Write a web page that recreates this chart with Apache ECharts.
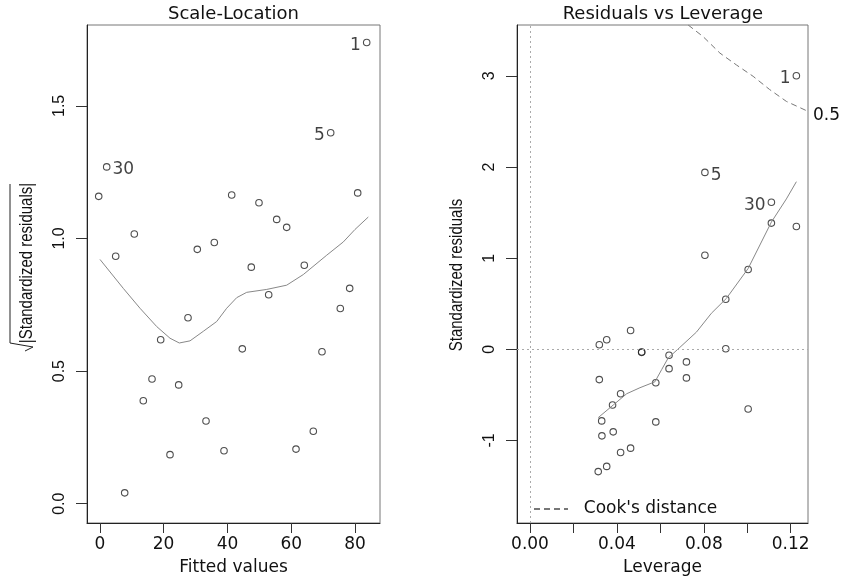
<!DOCTYPE html>
<html>
<head>
<meta charset="utf-8">
<script src="https://cdn.jsdelivr.net/npm/echarts@6/dist/echarts.min.js"></script>
<style>html,body{margin:0;padding:0;background:#fff}#c{width:841px;height:581px}</style>
</head>
<body>
<div id="c"></div>
<script>
// ---------- Scale-Location panel ----------
const fittedValues = [83.63, 72.35, 2.16, -0.34, 41.33, 80.81, 49.88, 55.43, 58.56, 10.81, 35.88, 30.55, 4.98, 47.47, 64.08, 78.30, 52.92, 75.36, 27.64, 19.08, 44.65, 69.62, 16.36, 24.72, 13.63, 33.28, 66.90, 38.92, 61.48, 22.00, 7.80];
const sqrtStdResid = [1.739, 1.399, 1.270, 1.159, 1.164, 1.172, 1.135, 1.072, 1.042, 1.017, 0.985, 0.959, 0.933, 0.892, 0.899, 0.812, 0.788, 0.736, 0.701, 0.618, 0.584, 0.573, 0.470, 0.448, 0.388, 0.312, 0.273, 0.200, 0.206, 0.185, 0.041];
const slLabels = ['1', '5', '30'];
const slLabelSide = ['left', 'left', 'right'];
const slSmoothX = [0.06, 7.36, 12.60, 17.83, 22.00, 24.91, 28.26, 32.43, 36.63, 39.76, 42.90, 46.03, 52.30, 58.56, 63.76, 71.10, 76.30, 79.96, 84.13];
const slSmoothY = [0.921, 0.812, 0.737, 0.668, 0.624, 0.606, 0.614, 0.650, 0.687, 0.737, 0.777, 0.797, 0.808, 0.824, 0.864, 0.937, 0.987, 1.034, 1.081];
const slXTicks = [0, 20, 40, 60, 80];
const slYTicks = [0, 0.5, 1.0, 1.5];

// ---------- Residuals vs Leverage panel ----------
const leverage = [0.1226, 0.0805, 0.1111, 0.1111, 0.1226, 0.0805, 0.1004, 0.0901, 0.0463, 0.0353, 0.0319, 0.0514, 0.0514, 0.0901, 0.0640, 0.0720, 0.0640, 0.0319, 0.0720, 0.0579, 0.0417, 0.0380, 0.0330, 0.0579, 0.1004, 0.0383, 0.0331, 0.0463, 0.0417, 0.0353, 0.0314];
const stdResid = [3.002, 1.941, 1.614, 1.385, 1.348, 1.032, 0.876, 0.549, 0.207, 0.105, 0.050, -0.029, -0.033, 0.007, -0.065, -0.138, -0.212, -0.332, -0.313, -0.367, -0.487, -0.611, -0.785, -0.796, -0.654, -0.905, -0.949, -1.084, -1.131, -1.284, -1.341];
const rlLabels = ['1', '5', '30'];
const rlLabelSide = ['left', 'right', 'left'];
const rlSmoothX = [0.0314, 0.0383, 0.0445, 0.0506, 0.0575, 0.0606, 0.0636, 0.0690, 0.0766, 0.0835, 0.0904, 0.1004, 0.1111, 0.1180, 0.1226];
const rlSmoothY = [-0.749, -0.611, -0.487, -0.421, -0.356, -0.222, -0.095, 0.022, 0.189, 0.396, 0.559, 0.887, 1.396, 1.650, 1.839];
const cookX = [0.0728, 0.0797, 0.0874, 0.0950, 0.1027, 0.1103, 0.1180, 0.1280];
const cookY = [3.558, 3.43, 3.25, 3.12, 2.995, 2.85, 2.72, 2.61];
const cookLevel = '0.5';
const rlXTicks = [0, 0.02, 0.04, 0.06, 0.08, 0.10, 0.12];
const rlXLabels = [0, 0.04, 0.08, 0.12];
const rlYTicks = [-1, 0, 1, 2, 3];

const H = "'DejaVu Sans', sans-serif";
const V = "'Liberation Sans', Arial, sans-serif";
const INK = '#111';

function pts(xs, ys) { return xs.map((x, i) => [x, ys[i]]); }
function labelled(xs, ys, labels, sides) {
  return xs.map((x, i) => {
    const d = { value: [x, ys[i]] };
    if (i < labels.length) {
      d.label = { show: true, formatter: labels[i], position: sides[i], distance: 2, offset: [0, 3],
        fontFamily: H, fontSize: 17, color: INK };
    }
    return d;
  });
}
function xAxisCfg(grid, min, max, ticks, labels, fmt, name) {
  return {
    type: 'value', gridIndex: grid, min: min, max: max,
    splitLine: { show: false },
    axisLine: { show: true, onZero: false, lineStyle: { color: '#222', width: 1 } },
    axisTick: { show: true, length: 10, customValues: ticks, lineStyle: { color: '#333' } },
    axisLabel: { show: true, customValues: labels, formatter: fmt, margin: 13,
      fontFamily: H, fontSize: 17, color: INK, showMinLabel: true, showMaxLabel: true },
    name: name, nameLocation: 'middle', nameGap: 36,
    nameTextStyle: { fontFamily: H, fontSize: 17, color: INK }
  };
}
function yAxisCfg(grid, min, max, ticks, fmt) {
  return {
    type: 'value', gridIndex: grid, min: min, max: max,
    splitLine: { show: false },
    axisLine: { show: true, onZero: false, lineStyle: { color: '#222', width: 1 } },
    axisTick: { show: true, length: 11, customValues: ticks, lineStyle: { color: '#333' } },
    axisLabel: { show: true, customValues: ticks, formatter: fmt, rotate: 90, margin: 19,
      fontFamily: V, fontSize: 16, color: INK }
  };
}
const pointStyle = { color: 'rgba(0,0,0,0)', borderColor: '#222', borderWidth: 1.1 };

const chart = echarts.init(document.getElementById('c'), null, { renderer: 'canvas' });
chart.setOption({
  animation: false,
  backgroundColor: '#fff',
  grid: [
    { left: 87, top: 25, width: 293, height: 501, show: true, borderColor: '#777', borderWidth: 1, containLabel: false },
    { left: 517, top: 25, width: 291, height: 501, show: true, borderColor: '#777', borderWidth: 1, containLabel: false }
  ],
  xAxis: [
    xAxisCfg(0, -4.01, 87.8, slXTicks, slXTicks, v => String(v), 'Fitted values'),
    xAxisCfg(1, -0.00598, 0.12795, rlXTicks, rlXLabels, v => v.toFixed(2), 'Leverage')
  ],
  yAxis: [
    yAxisCfg(0, -0.0727, 1.805, slYTicks, v => v.toFixed(1)),
    yAxisCfg(1, -1.905, 3.558, rlYTicks, v => String(v))
  ],
  legend: {
    data: ["Cook's distance"], left: 533, top: 500.5, padding: 0,
    itemWidth: 34, itemHeight: 14, formatter: '  {name}',
    itemStyle: { color: 'rgba(0,0,0,0)', borderWidth: 0, opacity: 0 },
    textStyle: { fontFamily: H, fontSize: 17, color: INK }
  },
  series: [
    { type: 'line', xAxisIndex: 0, yAxisIndex: 0, data: pts(slSmoothX, slSmoothY),
      showSymbol: false, symbol: 'none', smooth: false, silent: true,
      lineStyle: { color: '#888', width: 1 } },
    { type: 'scatter', xAxisIndex: 0, yAxisIndex: 0, data: labelled(fittedValues, sqrtStdResid, slLabels, slLabelSide),
      symbol: 'circle', symbolSize: 6.5, itemStyle: pointStyle, silent: true },
    { type: 'scatter', xAxisIndex: 1, yAxisIndex: 1, data: [], silent: true,
      markLine: { silent: true, symbol: 'none', label: { show: false },
        lineStyle: { type: [2, 3], color: '#aaa', width: 1 },
        data: [{ xAxis: 0 }, { yAxis: 0 }] } },
    { name: "Cook's distance", type: 'line', xAxisIndex: 1, yAxisIndex: 1, data: pts(cookX, cookY),
      showSymbol: false, symbol: 'none', silent: true, clip: true,
      lineStyle: { color: '#777', width: 1, type: [6, 4] } },
    { type: 'line', xAxisIndex: 1, yAxisIndex: 1, data: pts(rlSmoothX, rlSmoothY),
      showSymbol: false, symbol: 'none', silent: true,
      lineStyle: { color: '#888', width: 1 } },
    { type: 'scatter', xAxisIndex: 1, yAxisIndex: 1, data: labelled(leverage, stdResid, rlLabels, rlLabelSide),
      symbol: 'circle', symbolSize: 6.5, itemStyle: pointStyle, silent: true }
  ],
  graphic: [
    { type: 'text', x: 233.5, y: 14, style: { text: 'Scale-Location', fontFamily: H, fontSize: 18, fill: INK, textAlign: 'center', textVerticalAlign: 'middle' } },
    { type: 'text', x: 662.8, y: 14, style: { text: 'Residuals vs Leverage', fontFamily: H, fontSize: 18, fill: INK, textAlign: 'center', textVerticalAlign: 'middle' } },
    { type: 'text', x: 813, y: 116, style: { text: cookLevel, fontFamily: H, fontSize: 17, fill: INK, textAlign: 'left', textVerticalAlign: 'middle' } },
    { type: 'text', x: 27, y: 263, rotation: Math.PI / 2, scaleY: 1.2,
      style: { text: '|Standardized residuals|', fontFamily: V, fontSize: 15, fill: INK, textAlign: 'center', textVerticalAlign: 'middle' } },
    { type: 'polyline', shape: { points: [[10, 184], [10, 343], [33, 347], [25, 351]] },
      style: { stroke: '#222', lineWidth: 1, fill: null } },
    { type: 'text', x: 457.5, y: 275, rotation: Math.PI / 2, scaleY: 1.2,
      style: { text: 'Standardized residuals', fontFamily: V, fontSize: 15, fill: INK, textAlign: 'center', textVerticalAlign: 'middle' } }
  ]
});
</script>
</body>
</html>
